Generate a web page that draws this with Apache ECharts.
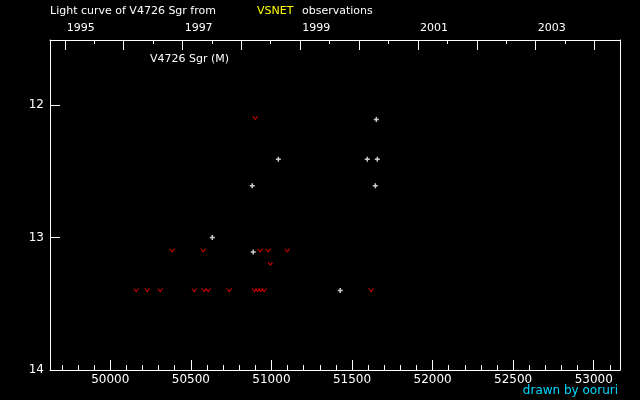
<!DOCTYPE html>
<html><head><meta charset="utf-8">
<script src="https://cdn.jsdelivr.net/npm/echarts@6/dist/echarts.min.js"></script>
<style>html,body{margin:0;padding:0;background:#000}#c{width:640px;height:400px}</style>
</head><body><div id="c"></div>
<script>
// Positive observations (MJD = JD - 2400000, magnitude)
const obsMJD = [50633, 50881, 50887, 51043, 51427, 51595, 51645, 51651, 51657];
const obsMag = [13.0, 12.61, 13.11, 12.41, 13.4, 12.41, 12.61, 12.11, 12.41];
// Fainter-than observations
const limMJD = [50161, 50230, 50310, 50385, 50521, 50577, 50583, 50608, 50738, 50895, 50900, 50915, 50931, 50935, 50955, 50981, 50993, 51098, 51618];
const limMag = [13.4, 13.4, 13.4, 13.1, 13.4, 13.1, 13.4, 13.4, 13.4, 13.4, 12.1, 13.4, 13.1, 13.4, 13.4, 13.1, 13.2, 13.1, 13.4];
// Axis ticks
const jdMajor = [50000, 50500, 51000, 51500, 52000, 52500, 53000];
const jdMinor = [49700, 49800, 49900, 50100, 50200, 50300, 50400, 50600, 50700, 50800, 50900, 51100, 51200, 51300, 51400, 51600, 51700, 51800, 51900, 52100, 52200, 52300, 52400, 52600, 52700, 52800, 52900, 53100];
const years = [1995, 1996, 1997, 1998, 1999, 2000, 2001, 2002, 2003, 2004];
const yearStartMJD = [49718, 50083, 50449, 50814, 51179, 51544, 51910, 52275, 52640, 53005];
const halfYearMJD = [49899, 50265, 50630, 50995, 51360, 51726, 52091, 52456, 52821];
const yearLabels = [1995, 1997, 1999, 2001, 2003];
const magTicks = [12, 13, 14];

const F = 'DejaVu Sans';
const yearLabelMJD = yearLabels.map(y => yearStartMJD[years.indexOf(y)]);
const jdMin = 49626, jdMax = 53163;
const line = {show: true, lineStyle: {color: '#fff', width: 1}};
const chart = echarts.init(document.getElementById('c'));
chart.setOption({
  backgroundColor: '#000',
  animation: false,
  grid: {left: 50, top: 40, right: 20, bottom: 30},
  xAxis: [
    {type: 'value', position: 'bottom', min: jdMin, max: jdMax, axisLine: line,
     axisTick: {show: true, inside: true, length: 10, customValues: jdMajor, lineStyle: {color: '#fff'}},
     axisLabel: {customValues: jdMajor, color: '#fff', fontFamily: F, fontSize: 12, margin: 4, formatter: v => String(v)},
     splitLine: {show: false}},
    {type: 'value', position: 'bottom', min: jdMin, max: jdMax, axisLine: {show: false},
     axisTick: {show: true, inside: true, length: 5, customValues: jdMinor, lineStyle: {color: '#fff'}},
     axisLabel: {show: false}, splitLine: {show: false}},
    {type: 'value', position: 'top', min: jdMin, max: jdMax, axisLine: line,
     axisTick: {show: true, inside: true, length: 10, customValues: yearStartMJD, lineStyle: {color: '#fff'}},
     axisLabel: {customValues: yearLabelMJD, color: '#fff', fontFamily: F, fontSize: 11, margin: 6, align: 'left', padding: [0, 0, 0, 2],
       formatter: v => String(years[yearStartMJD.indexOf(Math.round(v))])},
     splitLine: {show: false}},
    {type: 'value', position: 'top', min: jdMin, max: jdMax, axisLine: {show: false},
     axisTick: {show: true, inside: true, length: 4, customValues: halfYearMJD, lineStyle: {color: '#fff'}},
     axisLabel: {show: false}, splitLine: {show: false}}
  ],
  yAxis: [
    {type: 'value', position: 'left', inverse: true, min: 11.51, max: 14, axisLine: line,
     axisTick: {show: true, inside: true, length: 10, customValues: magTicks, lineStyle: {color: '#fff'}},
     axisLabel: {customValues: magTicks, color: '#fff', fontFamily: F, fontSize: 12, margin: 6, formatter: v => String(v)},
     splitLine: {show: false}},
    {type: 'value', position: 'right', inverse: true, min: 11.51, max: 14, axisLine: line,
     axisTick: {show: false}, axisLabel: {show: false}, splitLine: {show: false}}
  ],
  graphic: [
    {type: 'text', left: 50, top: 6, style: {text: 'Light curve of V4726 Sgr from', fill: '#fff', font: '11px "DejaVu Sans"'}},
    {type: 'text', left: 257, top: 6, style: {text: 'VSNET', fill: '#ffff00', font: '11px "DejaVu Sans"'}},
    {type: 'text', left: 302, top: 6, style: {text: 'observations', fill: '#fff', font: '11px "DejaVu Sans"'}},
    {type: 'text', left: 150, top: 54, style: {text: 'V4726 Sgr (M)', fill: '#fff', font: '11px "DejaVu Sans"'}},
    {type: 'text', right: 22, top: 385, style: {text: 'drawn by ooruri', fill: '#00d8ff', font: '12px "DejaVu Sans"'}}
  ],
  series: [
    {type: 'scatter', xAxisIndex: 0, yAxisIndex: 0,
     data: limMJD.map((x, i) => [x, limMag[i]]),
     symbol: 'path://M0,0L1.6,0L3.5,2.2L5.4,0L7,0L3.5,4Z', symbolSize: [6, 4],
     itemStyle: {color: '#ff0000'}},
    {type: 'scatter', xAxisIndex: 0, yAxisIndex: 0,
     data: obsMJD.map((x, i) => [x, obsMag[i]]),
     symbol: 'path://M1.75,0H3.25V1.75H5V3.25H3.25V5H1.75V3.25H0V1.75H1.75Z', symbolSize: [5, 5],
     itemStyle: {color: '#ffffff'}}
  ]
});
</script></body></html>
